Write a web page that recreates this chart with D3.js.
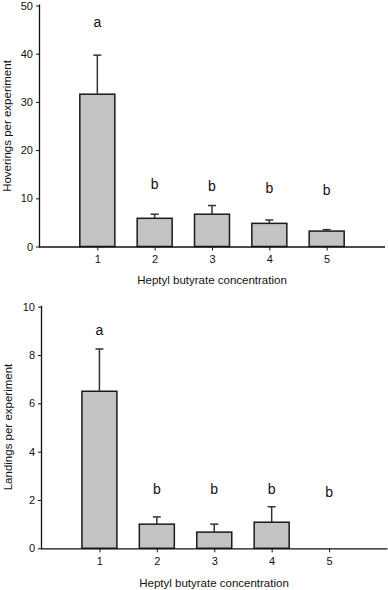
<!DOCTYPE html>
<html><head><meta charset="utf-8">
<script src="https://cdn.jsdelivr.net/npm/d3@7/dist/d3.min.js"></script>
<style>body{margin:0;background:#fff}svg{display:block}text{font-family:Arial,"Liberation Sans",sans-serif;fill:#111}</style>
</head><body>
<script>
const categories = [1, 2, 3, 4, 5];
const hoverMeans = [31.6, 5.85, 6.7, 4.8, 3.2];
const hoverErr   = [39.7, 6.7, 8.5, 5.5, 3.5];
const hoverLetters = ["a", "b", "b", "b", "b"];
const hoverLetterY = [46.5, 12.9, 12.6, 12.2, 11.6];
const hoverTicks = [0, 10, 20, 30, 40, 50];

const landMeans = [6.5, 1.0, 0.67, 1.08, 0];
const landErr   = [8.25, 1.3, 1.0, 1.72, 0];
const landLetters = ["a", "b", "b", "b", "b"];
const landLetterY = [9.05, 2.44, 2.45, 2.44, 2.32];
const landTicks = [0, 2, 4, 6, 8, 10];

const xLabel = "Heptyl butyrate concentration";

const svg = d3.select("body").append("svg").attr("width", 388).attr("height", 590);

function panel(o) {
  const g = svg.append("g");
  const x = d3.scaleLinear().domain([0, 6]).range([o.x0, o.x1]);
  const y = d3.scaleLinear().domain([0, o.ymax]).range([o.yb, o.yt]);
  const bw = 35;
  g.selectAll("rect.bar").data(categories).enter().append("rect")
    .attr("x", (d) => x(d) - bw / 2)
    .attr("y", (d, i) => y(o.means[i]))
    .attr("width", bw)
    .attr("height", (d, i) => y(0) - y(o.means[i]))
    .attr("fill", "#c3c3c3")
    .attr("stroke", (d, i) => o.means[i] > 0 ? "#1a1a1a" : "none")
    .attr("stroke-width", 1.5);
  categories.forEach((d, i) => {
    if (o.err[i] <= o.means[i]) return;
    g.append("line").attr("x1", x(d)).attr("x2", x(d))
      .attr("y1", y(o.means[i])).attr("y2", y(o.err[i]))
      .attr("stroke", "#333").attr("stroke-width", 1.5);
    g.append("line").attr("x1", x(d) - 4).attr("x2", x(d) + 4)
      .attr("y1", y(o.err[i])).attr("y2", y(o.err[i]))
      .attr("stroke", "#333").attr("stroke-width", 1.5);
  });
  g.selectAll("text.let").data(categories).enter().append("text")
    .attr("x", (d) => x(d)).attr("y", (d, i) => y(o.letterY[i]))
    .attr("dy", "0.35em").attr("text-anchor", "middle")
    .style("font-size", "14px").text((d, i) => o.letters[i]);
  const ya = g.append("g").attr("transform", `translate(${o.x0},0)`)
    .call(d3.axisLeft(y).tickValues(o.ticks).tickSize(4).tickPadding(3).tickFormat(d3.format("d")));
  ya.select(".domain").attr("stroke", "#111").attr("stroke-width", 1.3).attr("d", `M-0.5,${o.yb}V${o.yt - 1}`);
  ya.selectAll(".tick line").attr("stroke", "#111");
  ya.selectAll("text").style("font-size", "11px").style("font-family", "Arial,Liberation Sans,sans-serif").attr("fill", "#111");
  const xa = g.append("g").attr("transform", `translate(0,${o.yb})`)
    .call(d3.axisBottom(x).tickValues(categories).tickSize(4).tickPadding(5).tickFormat(d3.format("d")));
  xa.select(".domain").attr("stroke", "#111").attr("stroke-width", 1.3).attr("d", `M${o.x0 - 1},0.5H${o.x1 + 1}`);
  xa.selectAll(".tick line").attr("stroke", "#111");
  xa.selectAll("text").style("font-size", "11px").style("font-family", "Arial,Liberation Sans,sans-serif").attr("fill", "#111");
  g.append("text").attr("transform", `translate(${o.ylx},${o.yly}) rotate(-90)`)
    .attr("text-anchor", "middle").attr("dy", "0.35em").style("font-size", "11.5px").text(o.ylabel);
  g.append("text").attr("x", o.xlx).attr("y", o.xly).attr("dy", "0.35em")
    .attr("text-anchor", "middle").style("font-size", "11.5px").text(xLabel);
}

panel({x0: 40, x1: 384, yb: 246.5, yt: 5.5, ymax: 50, means: hoverMeans, err: hoverErr,
  letters: hoverLetters, letterY: hoverLetterY, ticks: hoverTicks,
  ylabel: "Hoverings per experiment", ylx: 7, yly: 126, xlx: 212, xly: 280});
panel({x0: 42, x1: 386.5, yb: 548.3, yt: 306.7, ymax: 10, means: landMeans, err: landErr,
  letters: landLetters, letterY: landLetterY, ticks: landTicks,
  ylabel: "Landings per experiment", ylx: 8, yly: 427, xlx: 214, xly: 582.5});
</script>
</body></html>
